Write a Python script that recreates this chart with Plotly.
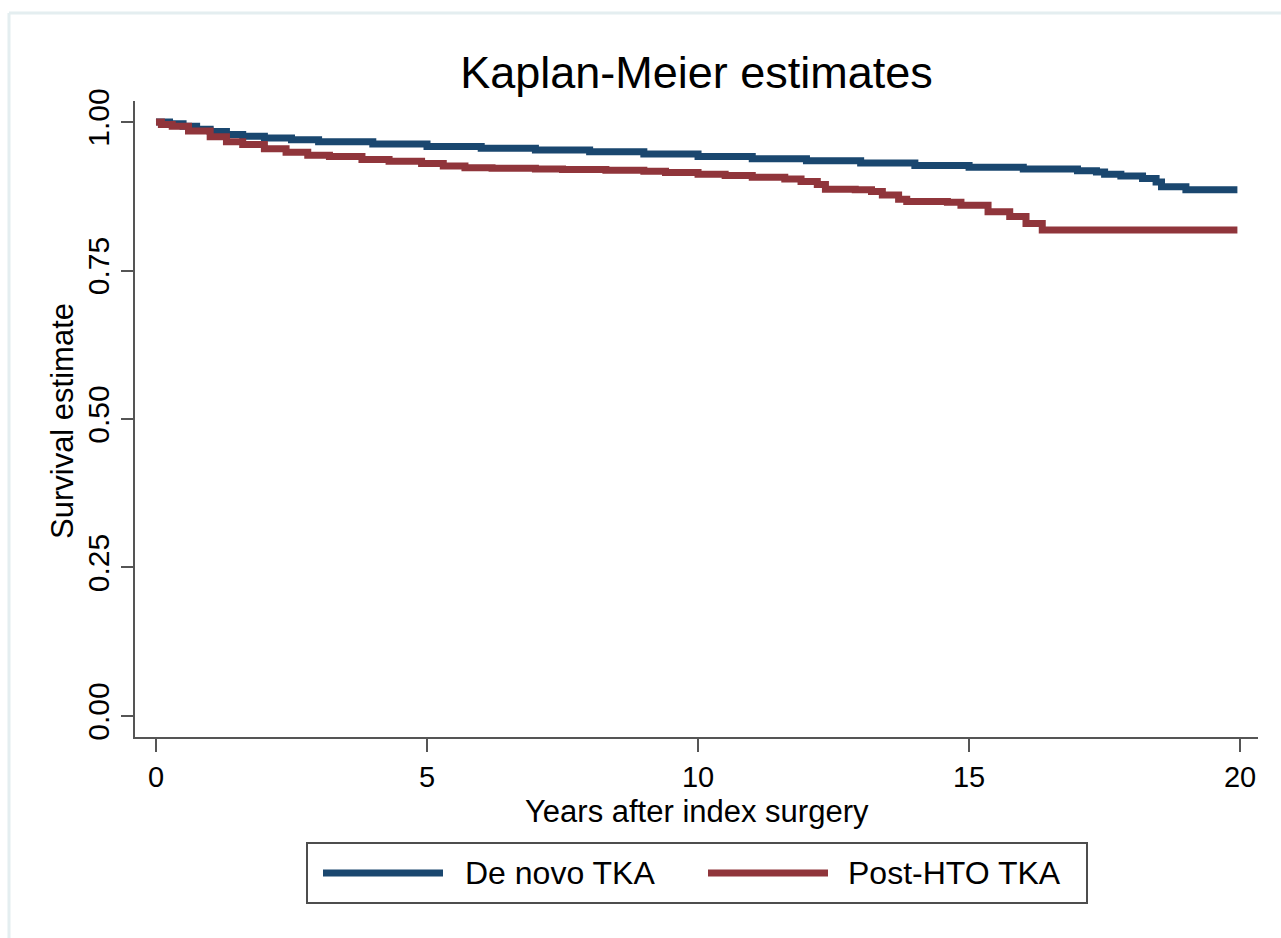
import plotly.graph_objects as go

# ---- data ----
years_denovo = [0, 0.25, 0.5, 0.75, 1, 1.3, 1.6, 2, 2.5, 3, 4, 5, 6, 7, 8, 9, 10, 11, 12, 13, 14, 15, 16,
                17, 17.35, 17.5, 17.8, 18.2, 18.45, 18.55, 19.0, 19.95]
surv_denovo = [1.0, 0.997, 0.993, 0.988, 0.984, 0.979, 0.976, 0.973, 0.970, 0.967, 0.963, 0.959, 0.956,
               0.953, 0.950, 0.946, 0.942, 0.938, 0.935, 0.931, 0.927, 0.924, 0.921,
               0.918, 0.916, 0.912, 0.909, 0.905, 0.899, 0.891, 0.886, 0.886]

years_posthto = [0, 0.1, 0.3, 0.6, 1.0, 1.3, 1.6, 2.0, 2.4, 2.8, 3.2, 3.8, 4.3, 4.9, 5.3, 5.7, 6.2, 7.0, 7.5,
                 8.3, 9.0, 9.4, 10.0, 10.5, 11.0, 11.6, 11.9, 12.2, 12.35, 12.9, 13.2, 13.4, 13.7, 13.85,
                 14.6, 14.85, 15.35, 15.75, 16.05, 16.35, 19.95]
surv_posthto = [1.0, 0.996, 0.993, 0.985, 0.975, 0.967, 0.962, 0.955, 0.949, 0.944, 0.942, 0.937, 0.934,
                0.930, 0.926, 0.923, 0.922, 0.921, 0.920, 0.919, 0.917, 0.915, 0.912, 0.910, 0.907,
                0.904, 0.900, 0.895, 0.887, 0.886, 0.883, 0.877, 0.870, 0.866, 0.865, 0.860, 0.849,
                0.841, 0.829, 0.818, 0.818]

series_names = ["De novo TKA", "Post-HTO TKA"]
series_colors = ["#1a476f", "#90353b"]
x_ticks = [0, 5, 10, 15, 20]
y_ticks = [0, 0.25, 0.5, 0.75, 1.0]
y_tick_labels = ["0.00", "0.25", "0.50", "0.75", "1.00"]

# ---- layout geometry (pixels) ----
W, H = 1281, 938
L, R, T, B = 135, 1258, 101, 737
FONT = "Liberation Sans, Arial, sans-serif"


def px(x):
    return (x - L) / (R - L)


def py(y):
    return (B - y) / (B - T)


fig = go.Figure()
for xs, ys, name, col in [(years_denovo, surv_denovo, series_names[0], series_colors[0]),
                          (years_posthto, surv_posthto, series_names[1], series_colors[1])]:
    fig.add_trace(go.Scatter(x=xs, y=ys, mode="lines", name=name,
                             line=dict(color=col, width=7, shape="hv"), showlegend=False))

axis_col = "#555555"
fig.update_layout(
    width=W, height=H,
    margin=dict(l=L, r=W - R, t=T, b=H - B, autoexpand=False),
    paper_bgcolor="white", plot_bgcolor="white",
    font=dict(family=FONT, color="black"),
    title=dict(text="Kaplan-Meier estimates", x=0.5, xref="paper", y=1 - 72 / H, yref="container",
               yanchor="middle", xanchor="center", font=dict(size=45, family=FONT, color="black")),
    xaxis=dict(range=[-0.387, 20.33], tickvals=x_ticks, ticks="outside", ticklen=13, tickwidth=1.5,
               tickcolor=axis_col, showline=True, linecolor=axis_col, linewidth=1.5, showgrid=False,
               zeroline=False, tickfont=dict(size=29, family=FONT, color="black")),
    yaxis=dict(range=[-0.0354, 1.0354], tickvals=y_ticks, ticktext=y_tick_labels, tickangle=-90,
               ticks="outside", ticklen=12, tickwidth=1.5, tickcolor=axis_col, showline=True,
               linecolor=axis_col, linewidth=1.5, showgrid=False, zeroline=False,
               tickfont=dict(size=30, family=FONT, color="black")),
)

annotations = [
    dict(text="Years after index surgery", x=0.5, y=py(811), xref="paper", yref="paper",
         showarrow=False, xanchor="center", yanchor="middle", font=dict(size=31, family=FONT)),
    dict(text="Survival estimate", x=px(62), y=py(421), xref="paper", yref="paper", textangle=-90,
         showarrow=False, xanchor="center", yanchor="middle", font=dict(size=31, family=FONT)),
    dict(text=series_names[0], x=px(463), y=py(873), xref="paper", yref="paper",
         showarrow=False, xanchor="left", yanchor="middle", font=dict(size=32, family=FONT)),
    dict(text=series_names[1], x=px(846), y=py(873), xref="paper", yref="paper",
         showarrow=False, xanchor="left", yanchor="middle", font=dict(size=32, family=FONT)),
]
shapes = [
    # outer graph-region border
    dict(type="line", xref="paper", yref="paper", x0=px(9), x1=px(1290), y0=py(13), y1=py(13),
         line=dict(color="#e4eef0", width=3)),
    dict(type="line", xref="paper", yref="paper", x0=px(9), x1=px(9), y0=py(13), y1=py(950),
         line=dict(color="#e4eef0", width=3)),
    # legend box
    dict(type="rect", xref="paper", yref="paper", x0=px(307), x1=px(1087), y0=py(843), y1=py(903),
         line=dict(color="#4d4d4d", width=2), fillcolor="white"),
    dict(type="line", xref="paper", yref="paper", x0=px(323), x1=px(443), y0=py(873), y1=py(873),
         line=dict(color=series_colors[0], width=7)),
    dict(type="line", xref="paper", yref="paper", x0=px(708), x1=px(828), y0=py(873), y1=py(873),
         line=dict(color=series_colors[1], width=7)),
]
fig.update_layout(annotations=annotations, shapes=shapes)

fig.write_html("out.html", config={"displayModeBar": False},
               post_script="document.body.style.margin='0';document.body.style.overflow='hidden';")
